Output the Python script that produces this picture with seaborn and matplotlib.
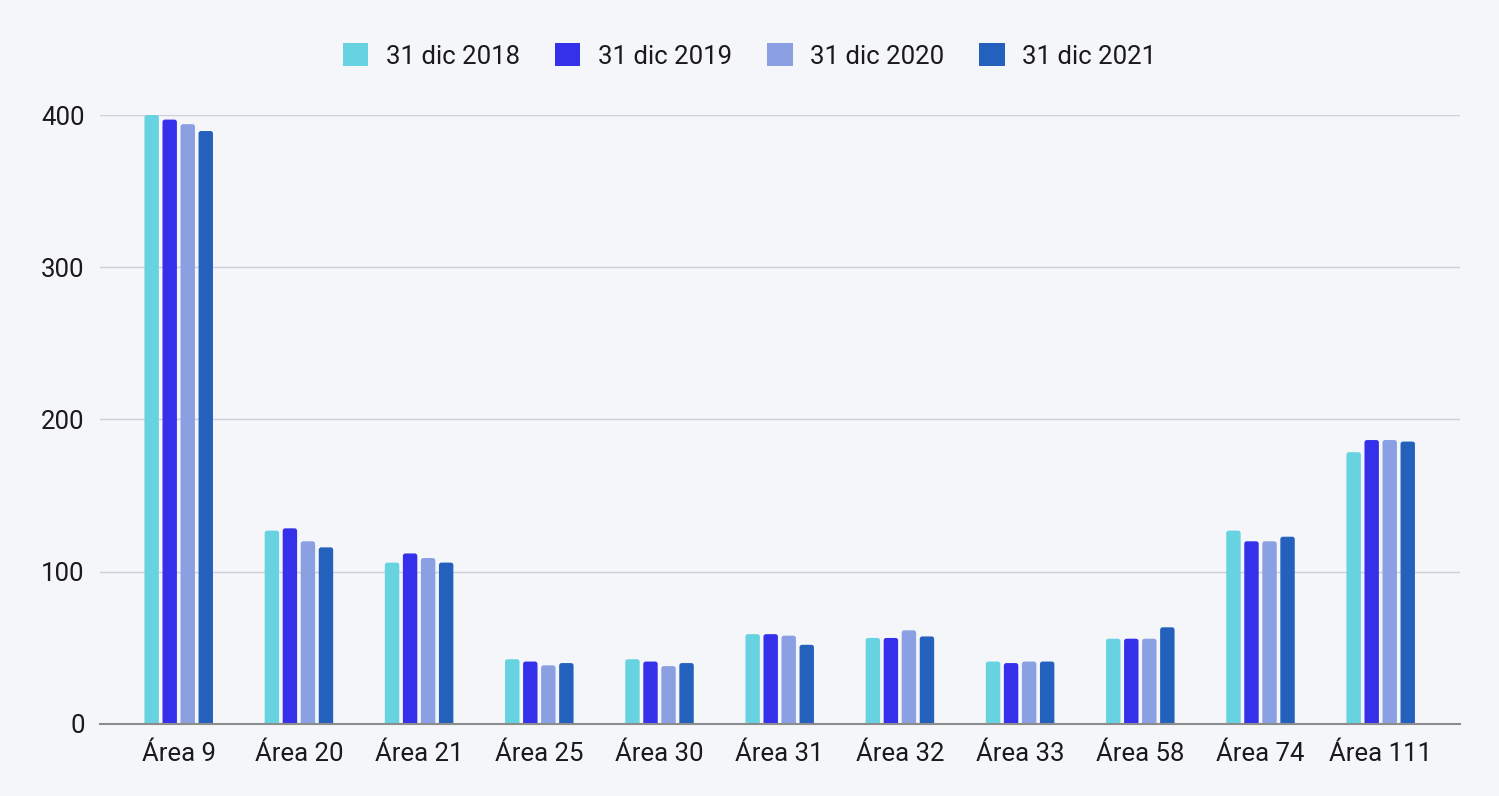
import matplotlib
matplotlib.use("Agg")
import matplotlib.pyplot as plt
from matplotlib.patches import FancyBboxPatch
import seaborn as sns
import pandas as pd

categories = ["Área 9", "Área 20", "Área 21", "Área 25", "Área 30", "Área 31",
              "Área 32", "Área 33", "Área 58", "Área 74", "Área 111"]
series_names = ["31 dic 2018", "31 dic 2019", "31 dic 2020", "31 dic 2021"]
v2018 = [400, 127, 106, 42.5, 42.5, 59, 56.5, 41, 56, 127, 178.5]
v2019 = [397, 128.5, 112, 41, 41, 59, 56.5, 40, 56, 120, 186.5]
v2020 = [394, 120, 109, 38.5, 38, 58, 61.5, 41, 56, 120, 186.5]
v2021 = [389.5, 116, 106, 40, 40, 52, 57.5, 41, 63.5, 123, 185.5]
colors = ["#67D3E0", "#3531EA", "#8AA0E2", "#2461BD"]
yticks = [0, 100, 200, 300, 400]

rows = []
for name, vals in zip(series_names, [v2018, v2019, v2020, v2021]):
    for c, v in zip(categories, vals):
        rows.append({"cat": c, "serie": name, "val": v})
df = pd.DataFrame(rows)

sns.set_theme(style="white")
plt.rcParams["font.family"] = ["Roboto", "DejaVu Sans"]
bg = "#F5F6FA"
txt = "#1A1A1A"
fig = plt.figure(figsize=(14.99, 7.96), dpi=100, facecolor=bg)
ax = fig.add_axes([0.0667, 0.0905, 0.9073, 0.765])
ax.set_facecolor(bg)

sns.barplot(data=df, x="cat", y="val", hue="serie", order=categories,
            hue_order=series_names, palette=colors, width=0.6, gap=0.2,
            saturation=1, ax=ax, legend=True, edgecolor="none")

ax.set_xlim(-0.655, 10.66)
ax.set_ylim(0, 400)

# rounded tops: swap each seaborn rectangle for a rounded box of same geometry
px_x = ax.transData.transform((1, 0))[0] - ax.transData.transform((0, 0))[0]
px_y = ax.transData.transform((0, 1))[1] - ax.transData.transform((0, 0))[1]
r_px = 2.5
rx = r_px / px_x
aspect = (r_px / px_y) / rx
for p in list(ax.patches):
    x, y = p.get_x(), p.get_y()
    w, h = p.get_width(), p.get_height()
    if h <= 0:
        continue
    ext = 3.0
    fb = FancyBboxPatch((x, y - ext), w, h + ext,
                        boxstyle=f"round,pad=0,rounding_size={rx}",
                        mutation_aspect=aspect, facecolor=p.get_facecolor(),
                        edgecolor="none", zorder=p.get_zorder())
    fb.set_clip_path(ax.patch)
    p.set_visible(False)
    ax.add_patch(fb)

ax.set_yticks(yticks)
ax.set_yticklabels([str(t) for t in yticks])
ax.yaxis.grid(True, color="#CDCFD6", linewidth=1)
ax.set_axisbelow(True)
for s in ["top", "right", "left"]:
    ax.spines[s].set_visible(False)
ax.spines["bottom"].set_color("#8C8C8C")
ax.spines["bottom"].set_linewidth(1.5)
ax.spines["bottom"].set_zorder(5)
ax.tick_params(axis="both", length=0, labelsize=18.5, colors=txt)
ax.tick_params(axis="x", pad=13)
ax.tick_params(axis="y", pad=11)
ax.set_xlabel("")
ax.set_ylabel("")

handles, labels = ax.get_legend_handles_labels()
if ax.get_legend():
    ax.get_legend().remove()
leg = fig.legend(handles, labels, loc="center", bbox_to_anchor=(0.5, 0.9296),
                 ncol=4, frameon=False, fontsize=18.5, handlelength=1.0,
                 handleheight=1.0, handletextpad=0.68, columnspacing=1.36)
for t in leg.get_texts():
    t.set_color(txt)

fig.savefig("out.png", dpi=100, facecolor=bg)
